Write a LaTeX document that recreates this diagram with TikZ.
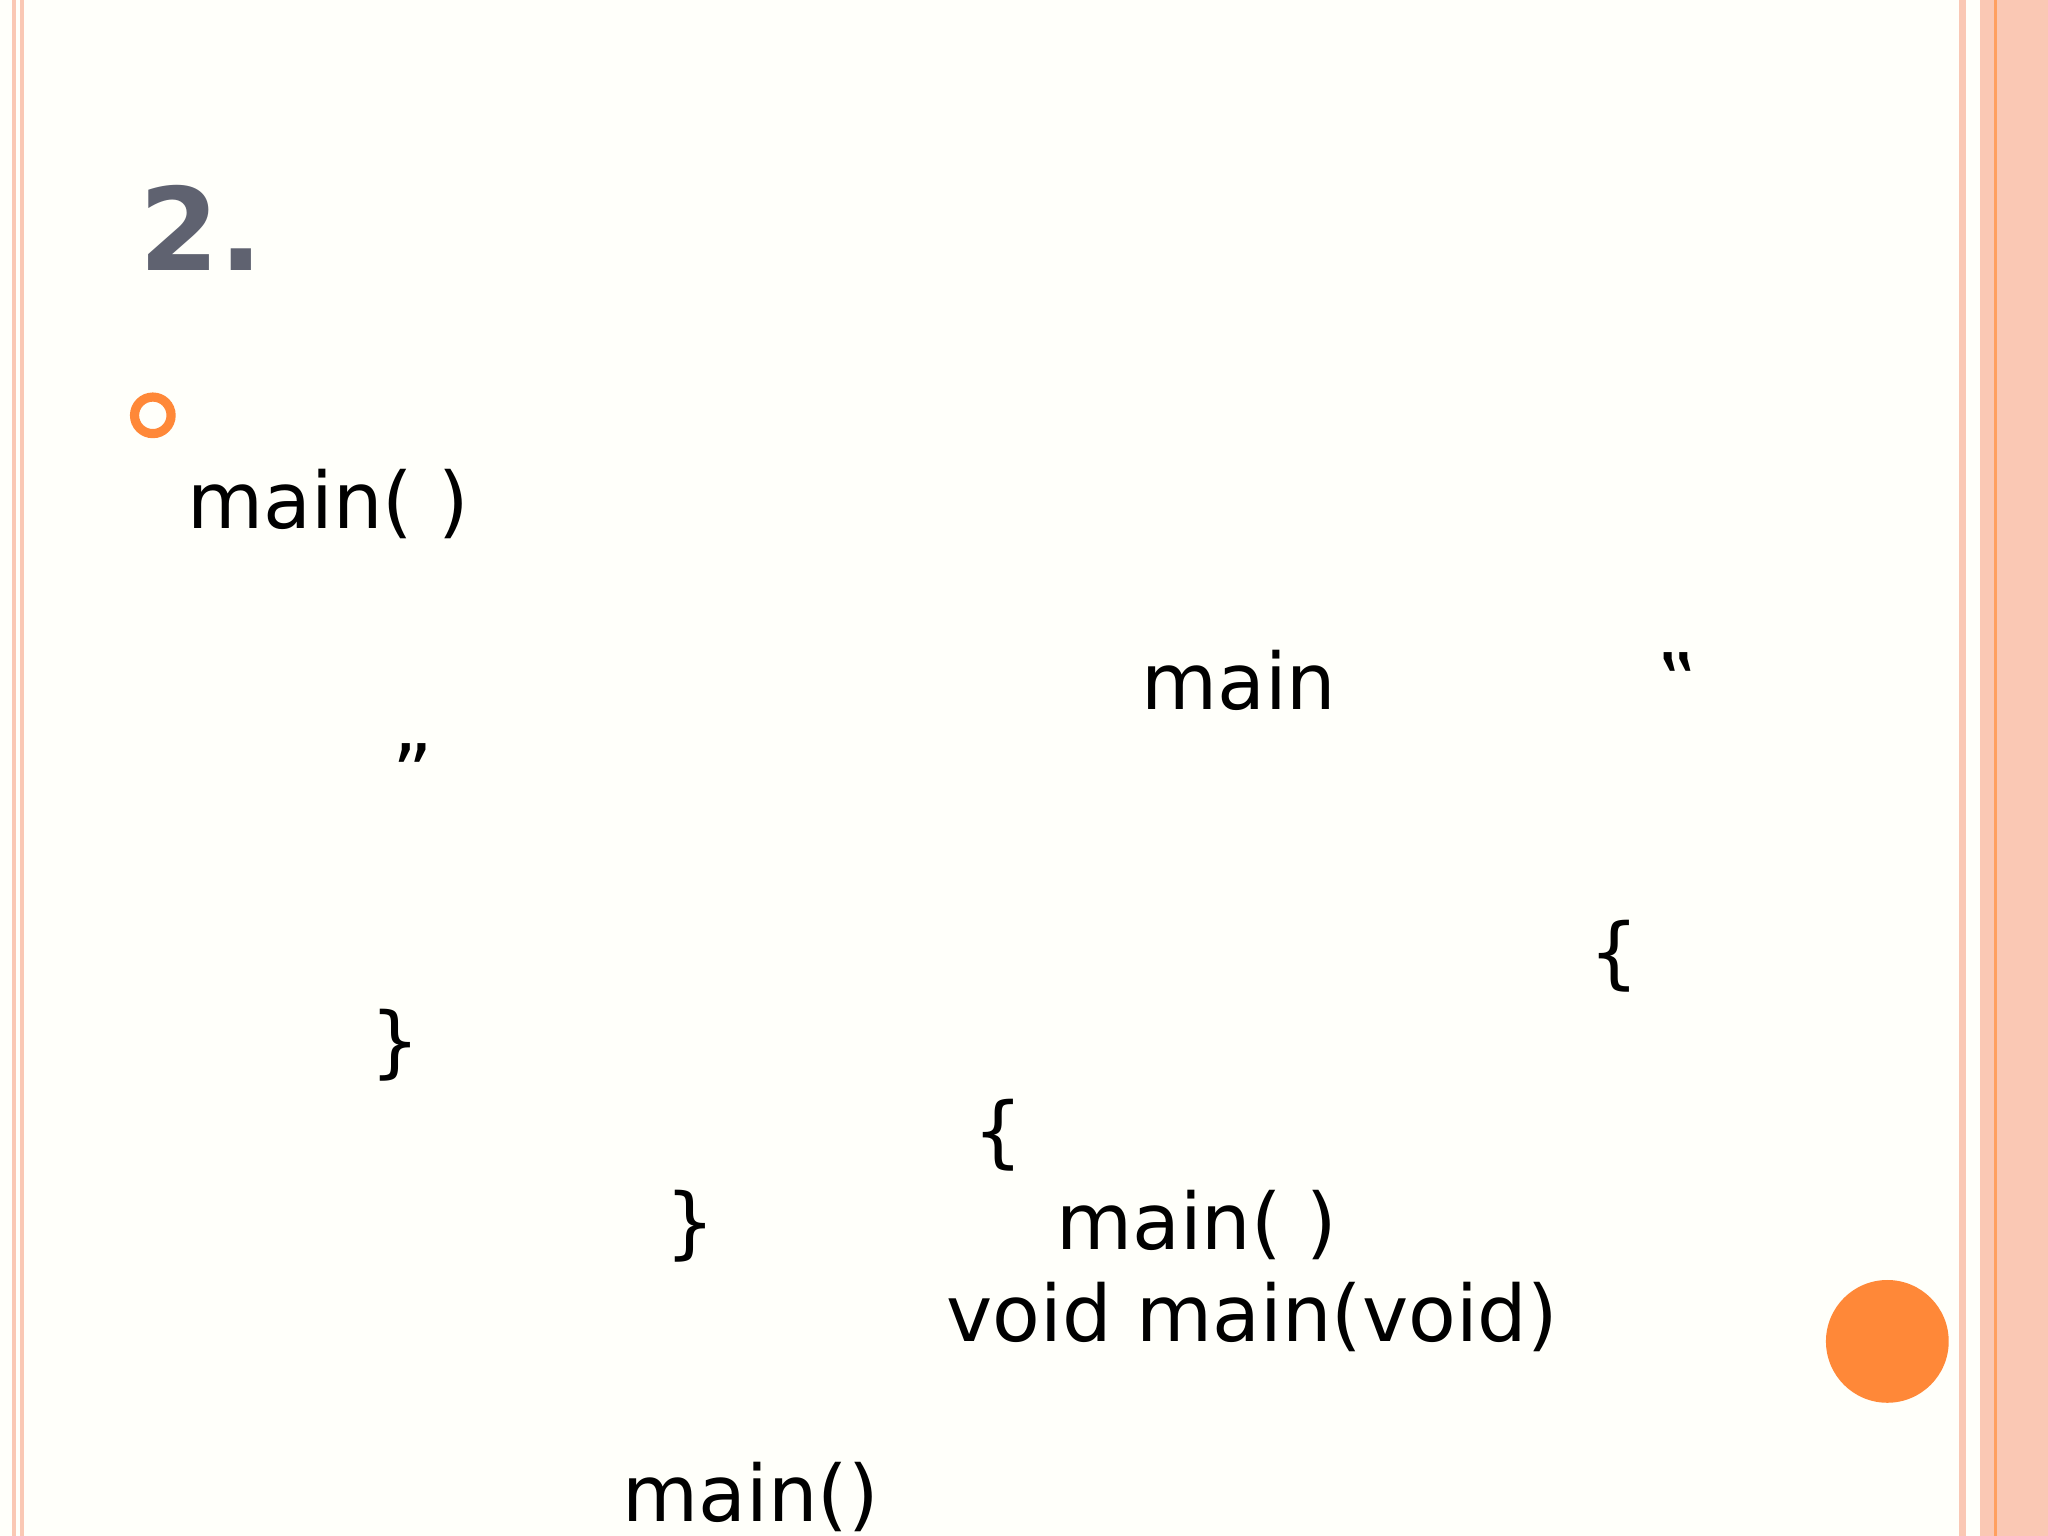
\documentclass[tikz,border=0pt]{standalone}
\usepackage{fontspec}
\setmainfont{DejaVu Sans}
\definecolor{bg}{HTML}{FFFFFA}
\definecolor{pinkl}{HTML}{FAC8B4}
\definecolor{orng}{HTML}{FF8838}
\definecolor{gr}{HTML}{5F6270}
\tikzset{txt/.style={anchor=base west,inner sep=0pt,font=\fontsize{17}{20}\selectfont}}
\begin{document}
\begin{tikzpicture}[x=0.01cm,y=-0.01cm]
\fill[bg] (0,0) rectangle (1568,1176);
\useasboundingbox (0,0) rectangle (1568,1176);
\fill[pinkl] (9,0) rectangle (12,1176);
\fill[pinkl] (15,0) rectangle (18,1176);
\fill[pinkl] (1500,0) rectangle (1505,1176);
\fill[pinkl] (1516,0) rectangle (1568,1176);
\fill[orng!80] (1527,0) rectangle (1529,1176);
\node[anchor=base west,inner sep=0pt,text=gr,font=\fontsize{25}{28}\selectfont\bfseries] (t) at (106,207) {2.};
\draw[orng,line width=2pt] (117,318) circle (14);
\node[txt] (a) at (143,405) {main( )};
\node[txt] (b) at (873,543) {main};
\node[txt] (c) at (1268,543) {‟};
\node[txt] (d) at (300,613) {”};
\node[txt] (e) at (1216,750) {\{};
\node[txt] (f) at (283,818) {\}};
\node[txt] (g) at (745,887) {\{};
\node[txt] (h) at (509,957) {\}};
\node[txt] (i) at (808,957) {main( )};
\node[txt] (j) at (724,1027) {void main(void)};
\node[txt] (k) at (476,1165) {main()};
\fill[orng] (1445,1027) circle (47);
\end{tikzpicture}
\end{document}
